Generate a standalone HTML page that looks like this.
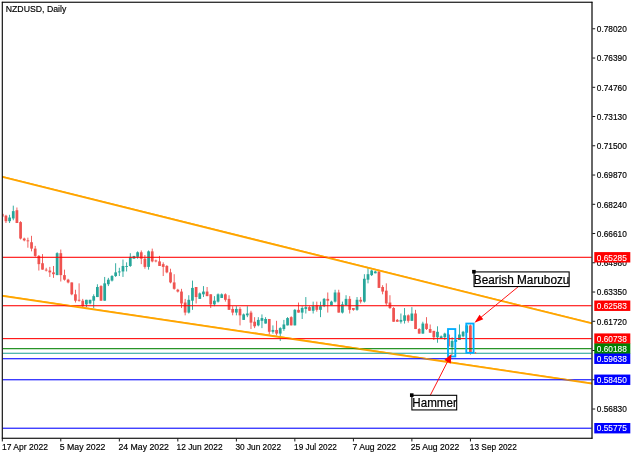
<!DOCTYPE html>
<html><head><meta charset="utf-8"><title>NZDUSD, Daily</title>
<style>html,body{margin:0;padding:0;background:#fff;}body{width:640px;height:457px;overflow:hidden;}svg{display:block;}</style>
</head><body>
<svg width="640" height="457" viewBox="0 0 700 500" preserveAspectRatio="none">
<rect x="0" y="0" width="700" height="500" fill="#ffffff"/>
<g shape-rendering="auto">
<g id="candles">
<rect x="3" y="234" width="1" height="3" fill="#ef5350"/>
<rect x="6" y="235" width="1" height="9" fill="#ef5350"/>
<rect x="5" y="236" width="3" height="6" fill="#ef5350"/>
<rect x="10" y="235" width="1" height="9" fill="#26a69a"/>
<rect x="9" y="238" width="3" height="4" fill="#26a69a"/>
<rect x="14" y="225" width="1" height="16" fill="#26a69a"/>
<rect x="13" y="231" width="3" height="8" fill="#26a69a"/>
<rect x="18" y="227" width="1" height="17" fill="#ef5350"/>
<rect x="17" y="230" width="3" height="14" fill="#ef5350"/>
<rect x="22" y="242" width="1" height="20" fill="#ef5350"/>
<rect x="21" y="243" width="3" height="18" fill="#ef5350"/>
<rect x="26" y="260" width="1" height="4" fill="#ef5350"/>
<rect x="25" y="261" width="3" height="2" fill="#ef5350"/>
<rect x="30" y="260" width="1" height="11" fill="#ef5350"/>
<rect x="29" y="263" width="3" height="1" fill="#ef5350"/>
<rect x="34" y="258" width="1" height="17" fill="#ef5350"/>
<rect x="33" y="265" width="3" height="7" fill="#ef5350"/>
<rect x="38" y="269" width="1" height="12" fill="#ef5350"/>
<rect x="37" y="272" width="3" height="8" fill="#ef5350"/>
<rect x="42" y="279" width="1" height="17" fill="#ef5350"/>
<rect x="41" y="280" width="3" height="9" fill="#ef5350"/>
<rect x="46" y="278" width="1" height="17" fill="#ef5350"/>
<rect x="45" y="288" width="3" height="7" fill="#ef5350"/>
<rect x="50" y="293" width="1" height="4" fill="#ef5350"/>
<rect x="49" y="295" width="3" height="1" fill="#ef5350"/>
<rect x="54" y="292" width="1" height="11" fill="#ef5350"/>
<rect x="53" y="296" width="3" height="2" fill="#ef5350"/>
<rect x="58" y="291" width="1" height="13" fill="#ef5350"/>
<rect x="57" y="298" width="3" height="2" fill="#ef5350"/>
<rect x="62" y="276" width="1" height="25" fill="#26a69a"/>
<rect x="61" y="277" width="3" height="24" fill="#26a69a"/>
<rect x="66" y="273" width="1" height="35" fill="#ef5350"/>
<rect x="65" y="277" width="3" height="24" fill="#ef5350"/>
<rect x="70" y="295" width="1" height="12" fill="#ef5350"/>
<rect x="69" y="301" width="3" height="5" fill="#ef5350"/>
<rect x="74" y="305" width="1" height="5" fill="#ef5350"/>
<rect x="73" y="306" width="3" height="3" fill="#ef5350"/>
<rect x="78" y="309" width="1" height="14" fill="#ef5350"/>
<rect x="77" y="309" width="3" height="13" fill="#ef5350"/>
<rect x="82" y="317" width="1" height="14" fill="#ef5350"/>
<rect x="81" y="322" width="3" height="7" fill="#ef5350"/>
<rect x="86" y="310" width="1" height="20" fill="#ef5350"/>
<rect x="85" y="328" width="3" height="1" fill="#ef5350"/>
<rect x="90" y="327" width="1" height="9" fill="#ef5350"/>
<rect x="89" y="329" width="3" height="6" fill="#ef5350"/>
<rect x="94" y="328" width="1" height="8" fill="#26a69a"/>
<rect x="93" y="328" width="3" height="5" fill="#26a69a"/>
<rect x="98" y="328" width="1" height="5" fill="#26a69a"/>
<rect x="97" y="328" width="3" height="4" fill="#26a69a"/>
<rect x="102" y="322" width="1" height="15" fill="#26a69a"/>
<rect x="101" y="324" width="3" height="5" fill="#26a69a"/>
<rect x="106" y="311" width="1" height="14" fill="#26a69a"/>
<rect x="105" y="314" width="3" height="11" fill="#26a69a"/>
<rect x="110" y="312" width="1" height="17" fill="#ef5350"/>
<rect x="109" y="313" width="3" height="16" fill="#ef5350"/>
<rect x="114" y="303" width="1" height="26" fill="#26a69a"/>
<rect x="113" y="310" width="3" height="19" fill="#26a69a"/>
<rect x="118" y="304" width="1" height="9" fill="#26a69a"/>
<rect x="117" y="306" width="3" height="5" fill="#26a69a"/>
<rect x="122" y="301" width="1" height="7" fill="#26a69a"/>
<rect x="121" y="302" width="3" height="5" fill="#26a69a"/>
<rect x="126" y="288" width="1" height="15" fill="#26a69a"/>
<rect x="125" y="298" width="3" height="4" fill="#26a69a"/>
<rect x="130" y="293" width="1" height="9" fill="#26a69a"/>
<rect x="129" y="297" width="3" height="1" fill="#26a69a"/>
<rect x="134" y="284" width="1" height="19" fill="#26a69a"/>
<rect x="133" y="291" width="3" height="6" fill="#26a69a"/>
<rect x="138" y="287" width="1" height="10" fill="#26a69a"/>
<rect x="137" y="291" width="3" height="1" fill="#26a69a"/>
<rect x="142" y="277" width="1" height="15" fill="#26a69a"/>
<rect x="141" y="281" width="3" height="10" fill="#26a69a"/>
<rect x="146" y="280" width="1" height="3" fill="#26a69a"/>
<rect x="145" y="280" width="3" height="3" fill="#26a69a"/>
<rect x="150" y="275" width="1" height="8" fill="#26a69a"/>
<rect x="149" y="276" width="3" height="5" fill="#26a69a"/>
<rect x="154" y="274" width="1" height="15" fill="#ef5350"/>
<rect x="153" y="276" width="3" height="7" fill="#ef5350"/>
<rect x="158" y="279" width="1" height="15" fill="#ef5350"/>
<rect x="157" y="283" width="3" height="9" fill="#ef5350"/>
<rect x="162" y="274" width="1" height="21" fill="#26a69a"/>
<rect x="161" y="275" width="3" height="17" fill="#26a69a"/>
<rect x="166" y="272" width="1" height="15" fill="#ef5350"/>
<rect x="165" y="275" width="3" height="11" fill="#ef5350"/>
<rect x="170" y="284" width="1" height="3" fill="#ef5350"/>
<rect x="169" y="285" width="3" height="1" fill="#ef5350"/>
<rect x="174" y="280" width="1" height="11" fill="#ef5350"/>
<rect x="173" y="286" width="3" height="5" fill="#ef5350"/>
<rect x="178" y="287" width="1" height="15" fill="#ef5350"/>
<rect x="177" y="289" width="3" height="3" fill="#ef5350"/>
<rect x="182" y="290" width="1" height="9" fill="#ef5350"/>
<rect x="181" y="291" width="3" height="7" fill="#ef5350"/>
<rect x="186" y="294" width="1" height="16" fill="#ef5350"/>
<rect x="185" y="298" width="3" height="11" fill="#ef5350"/>
<rect x="190" y="300" width="1" height="17" fill="#ef5350"/>
<rect x="189" y="309" width="3" height="7" fill="#ef5350"/>
<rect x="194" y="316" width="1" height="4" fill="#ef5350"/>
<rect x="193" y="317" width="3" height="2" fill="#ef5350"/>
<rect x="198" y="316" width="1" height="21" fill="#ef5350"/>
<rect x="197" y="319" width="3" height="13" fill="#ef5350"/>
<rect x="202" y="327" width="1" height="18" fill="#ef5350"/>
<rect x="201" y="331" width="3" height="11" fill="#ef5350"/>
<rect x="206" y="323" width="1" height="20" fill="#26a69a"/>
<rect x="205" y="328" width="3" height="14" fill="#26a69a"/>
<rect x="210" y="307" width="1" height="32" fill="#26a69a"/>
<rect x="209" y="315" width="3" height="14" fill="#26a69a"/>
<rect x="214" y="314" width="1" height="18" fill="#ef5350"/>
<rect x="213" y="314" width="3" height="11" fill="#ef5350"/>
<rect x="218" y="320" width="1" height="7" fill="#26a69a"/>
<rect x="217" y="321" width="3" height="6" fill="#26a69a"/>
<rect x="222" y="313" width="1" height="12" fill="#26a69a"/>
<rect x="221" y="319" width="3" height="3" fill="#26a69a"/>
<rect x="226" y="314" width="1" height="10" fill="#ef5350"/>
<rect x="225" y="319" width="3" height="5" fill="#ef5350"/>
<rect x="230" y="322" width="1" height="15" fill="#ef5350"/>
<rect x="229" y="322" width="3" height="11" fill="#ef5350"/>
<rect x="234" y="324" width="1" height="11" fill="#26a69a"/>
<rect x="233" y="329" width="3" height="4" fill="#26a69a"/>
<rect x="238" y="321" width="1" height="10" fill="#26a69a"/>
<rect x="237" y="322" width="3" height="8" fill="#26a69a"/>
<rect x="242" y="321" width="1" height="5" fill="#26a69a"/>
<rect x="241" y="322" width="3" height="4" fill="#26a69a"/>
<rect x="246" y="321" width="1" height="9" fill="#ef5350"/>
<rect x="245" y="322" width="3" height="6" fill="#ef5350"/>
<rect x="250" y="323" width="1" height="16" fill="#ef5350"/>
<rect x="249" y="327" width="3" height="12" fill="#ef5350"/>
<rect x="254" y="335" width="1" height="10" fill="#ef5350"/>
<rect x="253" y="338" width="3" height="4" fill="#ef5350"/>
<rect x="258" y="335" width="1" height="10" fill="#26a69a"/>
<rect x="257" y="338" width="3" height="4" fill="#26a69a"/>
<rect x="262" y="336" width="1" height="20" fill="#ef5350"/>
<rect x="261" y="338" width="3" height="7" fill="#ef5350"/>
<rect x="266" y="343" width="1" height="7" fill="#26a69a"/>
<rect x="265" y="344" width="3" height="6" fill="#26a69a"/>
<rect x="270" y="335" width="1" height="12" fill="#26a69a"/>
<rect x="269" y="343" width="3" height="2" fill="#26a69a"/>
<rect x="274" y="340" width="1" height="20" fill="#ef5350"/>
<rect x="273" y="342" width="3" height="11" fill="#ef5350"/>
<rect x="278" y="347" width="1" height="12" fill="#ef5350"/>
<rect x="277" y="352" width="3" height="5" fill="#ef5350"/>
<rect x="282" y="347" width="1" height="10" fill="#26a69a"/>
<rect x="281" y="350" width="3" height="6" fill="#26a69a"/>
<rect x="286" y="344" width="1" height="15" fill="#26a69a"/>
<rect x="285" y="348" width="3" height="3" fill="#26a69a"/>
<rect x="290" y="347" width="1" height="7" fill="#26a69a"/>
<rect x="289" y="349" width="3" height="5" fill="#26a69a"/>
<rect x="294" y="349" width="1" height="17" fill="#ef5350"/>
<rect x="293" y="349" width="3" height="14" fill="#ef5350"/>
<rect x="298" y="356" width="1" height="9" fill="#26a69a"/>
<rect x="297" y="361" width="3" height="2" fill="#26a69a"/>
<rect x="302" y="351" width="1" height="16" fill="#ef5350"/>
<rect x="301" y="361" width="3" height="4" fill="#ef5350"/>
<rect x="306" y="358" width="1" height="15" fill="#26a69a"/>
<rect x="305" y="359" width="3" height="6" fill="#26a69a"/>
<rect x="310" y="350" width="1" height="12" fill="#26a69a"/>
<rect x="309" y="355" width="3" height="5" fill="#26a69a"/>
<rect x="314" y="347" width="1" height="9" fill="#26a69a"/>
<rect x="313" y="348" width="3" height="8" fill="#26a69a"/>
<rect x="318" y="346" width="1" height="10" fill="#ef5350"/>
<rect x="317" y="347" width="3" height="9" fill="#ef5350"/>
<rect x="322" y="338" width="1" height="18" fill="#26a69a"/>
<rect x="321" y="339" width="3" height="17" fill="#26a69a"/>
<rect x="326" y="331" width="1" height="11" fill="#ef5350"/>
<rect x="325" y="339" width="3" height="3" fill="#ef5350"/>
<rect x="330" y="335" width="1" height="14" fill="#26a69a"/>
<rect x="329" y="337" width="3" height="5" fill="#26a69a"/>
<rect x="334" y="325" width="1" height="18" fill="#26a69a"/>
<rect x="333" y="336" width="3" height="2" fill="#26a69a"/>
<rect x="338" y="335" width="1" height="5" fill="#ef5350"/>
<rect x="337" y="336" width="3" height="4" fill="#ef5350"/>
<rect x="342" y="330" width="1" height="13" fill="#26a69a"/>
<rect x="341" y="335" width="3" height="5" fill="#26a69a"/>
<rect x="346" y="330" width="1" height="11" fill="#ef5350"/>
<rect x="345" y="334" width="3" height="5" fill="#ef5350"/>
<rect x="350" y="330" width="1" height="17" fill="#26a69a"/>
<rect x="349" y="335" width="3" height="4" fill="#26a69a"/>
<rect x="354" y="326" width="1" height="10" fill="#26a69a"/>
<rect x="353" y="327" width="3" height="8" fill="#26a69a"/>
<rect x="358" y="320" width="1" height="22" fill="#ef5350"/>
<rect x="357" y="327" width="3" height="2" fill="#ef5350"/>
<rect x="362" y="329" width="1" height="5" fill="#26a69a"/>
<rect x="361" y="330" width="3" height="4" fill="#26a69a"/>
<rect x="366" y="317" width="1" height="14" fill="#26a69a"/>
<rect x="365" y="320" width="3" height="10" fill="#26a69a"/>
<rect x="370" y="317" width="1" height="25" fill="#ef5350"/>
<rect x="369" y="320" width="3" height="22" fill="#ef5350"/>
<rect x="374" y="330" width="1" height="13" fill="#26a69a"/>
<rect x="373" y="333" width="3" height="9" fill="#26a69a"/>
<rect x="378" y="323" width="1" height="11" fill="#26a69a"/>
<rect x="377" y="327" width="3" height="7" fill="#26a69a"/>
<rect x="382" y="324" width="1" height="19" fill="#ef5350"/>
<rect x="381" y="327" width="3" height="12" fill="#ef5350"/>
<rect x="386" y="337" width="1" height="3" fill="#ef5350"/>
<rect x="385" y="337" width="3" height="2" fill="#ef5350"/>
<rect x="390" y="325" width="1" height="15" fill="#26a69a"/>
<rect x="389" y="328" width="3" height="11" fill="#26a69a"/>
<rect x="394" y="325" width="1" height="7" fill="#ef5350"/>
<rect x="393" y="328" width="3" height="2" fill="#ef5350"/>
<rect x="398" y="300" width="1" height="31" fill="#26a69a"/>
<rect x="397" y="305" width="3" height="25" fill="#26a69a"/>
<rect x="402" y="293" width="1" height="17" fill="#26a69a"/>
<rect x="401" y="300" width="3" height="6" fill="#26a69a"/>
<rect x="406" y="295" width="1" height="7" fill="#26a69a"/>
<rect x="405" y="296" width="3" height="5" fill="#26a69a"/>
<rect x="410" y="296" width="1" height="3" fill="#26a69a"/>
<rect x="409" y="297" width="3" height="2" fill="#26a69a"/>
<rect x="414" y="297" width="1" height="18" fill="#ef5350"/>
<rect x="413" y="297" width="3" height="18" fill="#ef5350"/>
<rect x="418" y="312" width="1" height="10" fill="#ef5350"/>
<rect x="417" y="314" width="3" height="5" fill="#ef5350"/>
<rect x="422" y="310" width="1" height="24" fill="#ef5350"/>
<rect x="421" y="318" width="3" height="14" fill="#ef5350"/>
<rect x="426" y="323" width="1" height="15" fill="#ef5350"/>
<rect x="425" y="331" width="3" height="6" fill="#ef5350"/>
<rect x="430" y="336" width="1" height="16" fill="#ef5350"/>
<rect x="429" y="337" width="3" height="15" fill="#ef5350"/>
<rect x="434" y="349" width="1" height="3" fill="#ef5350"/>
<rect x="433" y="350" width="3" height="2" fill="#ef5350"/>
<rect x="438" y="343" width="1" height="11" fill="#26a69a"/>
<rect x="437" y="350" width="3" height="2" fill="#26a69a"/>
<rect x="442" y="337" width="1" height="17" fill="#26a69a"/>
<rect x="441" y="345" width="3" height="6" fill="#26a69a"/>
<rect x="446" y="344" width="1" height="9" fill="#ef5350"/>
<rect x="445" y="345" width="3" height="6" fill="#ef5350"/>
<rect x="450" y="336" width="1" height="15" fill="#26a69a"/>
<rect x="449" y="343" width="3" height="8" fill="#26a69a"/>
<rect x="454" y="339" width="1" height="21" fill="#ef5350"/>
<rect x="453" y="343" width="3" height="17" fill="#ef5350"/>
<rect x="458" y="359" width="1" height="6" fill="#ef5350"/>
<rect x="457" y="360" width="3" height="5" fill="#ef5350"/>
<rect x="462" y="352" width="1" height="13" fill="#26a69a"/>
<rect x="461" y="354" width="3" height="11" fill="#26a69a"/>
<rect x="466" y="347" width="1" height="14" fill="#ef5350"/>
<rect x="465" y="354" width="3" height="6" fill="#ef5350"/>
<rect x="470" y="355" width="1" height="9" fill="#ef5350"/>
<rect x="469" y="360" width="3" height="4" fill="#ef5350"/>
<rect x="474" y="362" width="1" height="10" fill="#ef5350"/>
<rect x="473" y="362" width="3" height="7" fill="#ef5350"/>
<rect x="478" y="357" width="1" height="18" fill="#26a69a"/>
<rect x="477" y="363" width="3" height="6" fill="#26a69a"/>
<rect x="482" y="367" width="1" height="3" fill="#26a69a"/>
<rect x="481" y="368" width="3" height="2" fill="#26a69a"/>
<rect x="486" y="364" width="1" height="8" fill="#26a69a"/>
<rect x="485" y="365" width="3" height="4" fill="#26a69a"/>
<rect x="490" y="365" width="1" height="15" fill="#ef5350"/>
<rect x="489" y="366" width="3" height="13" fill="#ef5350"/>
<rect x="494" y="369" width="1" height="19" fill="#26a69a"/>
<rect x="493" y="373" width="3" height="7" fill="#26a69a"/>
<rect x="498" y="371" width="1" height="3" fill="#26a69a"/>
<rect x="497" y="372" width="3" height="2" fill="#26a69a"/>
<rect x="502" y="355" width="1" height="17" fill="#26a69a"/>
<rect x="501" y="366" width="3" height="6" fill="#26a69a"/>
<rect x="506" y="362" width="1" height="7" fill="#26a69a"/>
<rect x="505" y="363" width="3" height="5" fill="#26a69a"/>
<rect x="510" y="356" width="1" height="8" fill="#26a69a"/>
<rect x="509" y="356" width="3" height="8" fill="#26a69a"/>
<rect x="514" y="355" width="1" height="33" fill="#ef5350"/>
<rect x="513" y="356" width="3" height="30" fill="#ef5350"/>
</g>
<g id="trend" stroke="#ffa500" stroke-width="2">
<line x1="2.52" y1="193.54" x2="647.5" y2="353.9"/>
<line x1="2.52" y1="323.63" x2="647.5" y2="419.7"/>
</g>
<g id="hlines">
<rect x="3" y="280.92" width="644" height="1.16" fill="#ff0000"/>
<rect x="3" y="333.92" width="644" height="1.16" fill="#ff0000"/>
<rect x="3" y="369.92" width="644" height="1.16" fill="#ff0000"/>
<rect x="3" y="380.92" width="644" height="1.16" fill="#008000"/>
<rect x="3" y="385.92" width="644" height="1.16" fill="#26a69a"/>
<rect x="3" y="391.92" width="644" height="1.16" fill="#0000ff"/>
<rect x="3" y="414.92" width="644" height="1.16" fill="#0000ff"/>
<rect x="3" y="467.92" width="644" height="1.16" fill="#0000ff"/>
</g>
<g id="trendtop" stroke="#ffa500" stroke-width="1">
<line x1="2.52" y1="193.04" x2="647.5" y2="353.4"/>
<line x1="2.52" y1="323.13" x2="647.5" y2="419.2"/>
</g>
<g id="rects" fill="none" stroke="#00adff" stroke-width="2">
<rect x="490" y="360" width="8" height="30"/>
<rect x="510" y="354" width="8" height="32"/>
</g>
<rect x="519.3" y="385.3" width="1.5" height="1.5" fill="#ef5350"/>
<g id="arrows">
<line x1="567.11" y1="313.46" x2="520.53" y2="351.74" stroke="#ff0000" stroke-width="1"/>
<polygon points="518.98,353.01 528.59,349.26 524.52,344.31" fill="#ff0000"/>
<line x1="470.42" y1="432.93" x2="492.92" y2="388.98" stroke="#ff0000" stroke-width="1"/>
<polygon points="493.83,387.2 485.89,393.92 493.02,397.57" fill="#ff0000"/>
</g>
<g id="labels" font-family="'Liberation Sans', Arial, sans-serif" font-size="13.5" fill="#000000">
<rect x="518.5" y="297.5" width="104" height="16" fill="#ffffff" stroke="#000000" stroke-width="1.2"/>
<rect x="516.4" y="295.3" width="3.9" height="4" fill="#000000"/>
<text x="518.2" y="310.4" textLength="104.6" lengthAdjust="spacingAndGlyphs" stroke="#000000" stroke-width="0.25">Bearish Marubozu</text>
<rect x="450.5" y="432.5" width="49" height="16" fill="#ffffff" stroke="#000000" stroke-width="1.2"/>
<rect x="448.4" y="430.3" width="3.9" height="4" fill="#000000"/>
<text x="451" y="445.4" textLength="48.6" lengthAdjust="spacingAndGlyphs" stroke="#000000" stroke-width="0.25">Hammer</text>
</g>
<g id="frame" fill="#000000">
<rect x="1.9" y="2" width="1.2" height="478"/>
<rect x="2" y="1.85" width="646" height="1.2"/>
<rect x="646.85" y="2" width="1.3" height="478"/>
<rect x="2" y="478.9" width="646" height="1.2"/>
<rect x="648" y="31" width="3" height="1"/>
<rect x="648" y="63" width="3" height="1"/>
<rect x="648" y="95" width="3" height="1"/>
<rect x="648" y="127" width="3" height="1"/>
<rect x="648" y="159" width="3" height="1"/>
<rect x="648" y="191" width="3" height="1"/>
<rect x="648" y="223" width="3" height="1"/>
<rect x="648" y="255" width="3" height="1"/>
<rect x="648" y="287" width="3" height="1"/>
<rect x="648" y="319" width="3" height="1"/>
<rect x="648" y="351" width="3" height="1"/>
<rect x="648" y="383" width="3" height="1"/>
<rect x="648" y="415" width="3" height="1"/>
<rect x="648" y="447" width="3" height="1"/>
<rect x="2" y="480" width="1" height="3"/>
<rect x="66" y="480" width="1" height="3"/>
<rect x="130" y="480" width="1" height="3"/>
<rect x="194" y="480" width="1" height="3"/>
<rect x="258" y="480" width="1" height="3"/>
<rect x="322" y="480" width="1" height="3"/>
<rect x="386" y="480" width="1" height="3"/>
<rect x="450" y="480" width="1" height="3"/>
<rect x="514" y="480" width="1" height="3"/>
</g>
<g id="axistext" font-family="'Liberation Sans', Arial, sans-serif" font-size="10.6" fill="#000000" stroke="#000000" stroke-width="0.2">
<text x="652.8" y="35.1" textLength="32.8" lengthAdjust="spacingAndGlyphs">0.78020</text>
<text x="652.8" y="67.1" textLength="32.8" lengthAdjust="spacingAndGlyphs">0.76390</text>
<text x="652.8" y="99.1" textLength="32.8" lengthAdjust="spacingAndGlyphs">0.74760</text>
<text x="652.8" y="131.1" textLength="32.8" lengthAdjust="spacingAndGlyphs">0.73130</text>
<text x="652.8" y="163.1" textLength="32.8" lengthAdjust="spacingAndGlyphs">0.71500</text>
<text x="652.8" y="195.1" textLength="32.8" lengthAdjust="spacingAndGlyphs">0.69870</text>
<text x="652.8" y="227.1" textLength="32.8" lengthAdjust="spacingAndGlyphs">0.68240</text>
<text x="652.8" y="259.1" textLength="32.8" lengthAdjust="spacingAndGlyphs">0.66610</text>
<text x="652.8" y="291.1" textLength="32.8" lengthAdjust="spacingAndGlyphs">0.64980</text>
<text x="652.8" y="323.1" textLength="32.8" lengthAdjust="spacingAndGlyphs">0.63350</text>
<text x="652.8" y="355.1" textLength="32.8" lengthAdjust="spacingAndGlyphs">0.61720</text>
<text x="652.8" y="387.1" textLength="32.8" lengthAdjust="spacingAndGlyphs">0.60090</text>
<text x="652.8" y="419.1" textLength="32.8" lengthAdjust="spacingAndGlyphs">0.58460</text>
<text x="652.8" y="451.1" textLength="32.8" lengthAdjust="spacingAndGlyphs">0.56830</text>
<text x="2.2" y="492.3" textLength="50.2" lengthAdjust="spacingAndGlyphs">17 Apr 2022</text>
<text x="65.35" y="492.3" textLength="49.95" lengthAdjust="spacingAndGlyphs">5 May 2022</text>
<text x="129.55" y="492.3" textLength="55.15" lengthAdjust="spacingAndGlyphs">24 May 2022</text>
<text x="193.1" y="492.3" textLength="50.3" lengthAdjust="spacingAndGlyphs">12 Jun 2022</text>
<text x="257.45" y="492.3" textLength="49.95" lengthAdjust="spacingAndGlyphs">30 Jun 2022</text>
<text x="321.7" y="492.3" textLength="46.7" lengthAdjust="spacingAndGlyphs">19 Jul 2022</text>
<text x="385.45" y="492.3" textLength="47.85" lengthAdjust="spacingAndGlyphs">7 Aug 2022</text>
<text x="449.25" y="492.3" textLength="53.05" lengthAdjust="spacingAndGlyphs">25 Aug 2022</text>
<text x="513.9" y="492.3" textLength="51.4" lengthAdjust="spacingAndGlyphs">13 Sep 2022</text>
<text x="6.3" y="12.8" textLength="66.2" lengthAdjust="spacingAndGlyphs">NZDUSD, Daily</text>
</g>
<g id="pboxes" font-family="'Liberation Sans', Arial, sans-serif" font-size="10.6" stroke="#ffffff" stroke-width="0.1">
<rect x="650" y="275.8" width="39.4" height="11.4" fill="#ff0000" stroke="none"/>
<text x="652.8" y="285.1" fill="#ffffff" textLength="32.8" lengthAdjust="spacingAndGlyphs">0.65285</text>
<rect x="650" y="328.8" width="39.4" height="11.4" fill="#ff0000" stroke="none"/>
<text x="652.8" y="338.1" fill="#ffffff" textLength="32.8" lengthAdjust="spacingAndGlyphs">0.62583</text>
<rect x="650" y="364.8" width="39.4" height="11.4" fill="#ff0000" stroke="none"/>
<text x="652.8" y="374.1" fill="#ffffff" textLength="32.8" lengthAdjust="spacingAndGlyphs">0.60738</text>
<rect x="650" y="375.8" width="39.4" height="11.4" fill="#008000" stroke="none"/>
<text x="652.8" y="385.1" fill="#ffffff" textLength="32.8" lengthAdjust="spacingAndGlyphs">0.60188</text>
<rect x="650" y="386.8" width="39.4" height="11.4" fill="#0000ff" stroke="none"/>
<text x="652.8" y="396.1" fill="#ffffff" textLength="32.8" lengthAdjust="spacingAndGlyphs">0.59638</text>
<rect x="650" y="409.8" width="39.4" height="11.4" fill="#0000ff" stroke="none"/>
<text x="652.8" y="419.1" fill="#ffffff" textLength="32.8" lengthAdjust="spacingAndGlyphs">0.58450</text>
<rect x="650" y="462.8" width="39.4" height="11.4" fill="#0000ff" stroke="none"/>
<text x="652.8" y="472.1" fill="#ffffff" textLength="32.8" lengthAdjust="spacingAndGlyphs">0.55775</text>
</g>
</g>
</svg>
</body></html>
